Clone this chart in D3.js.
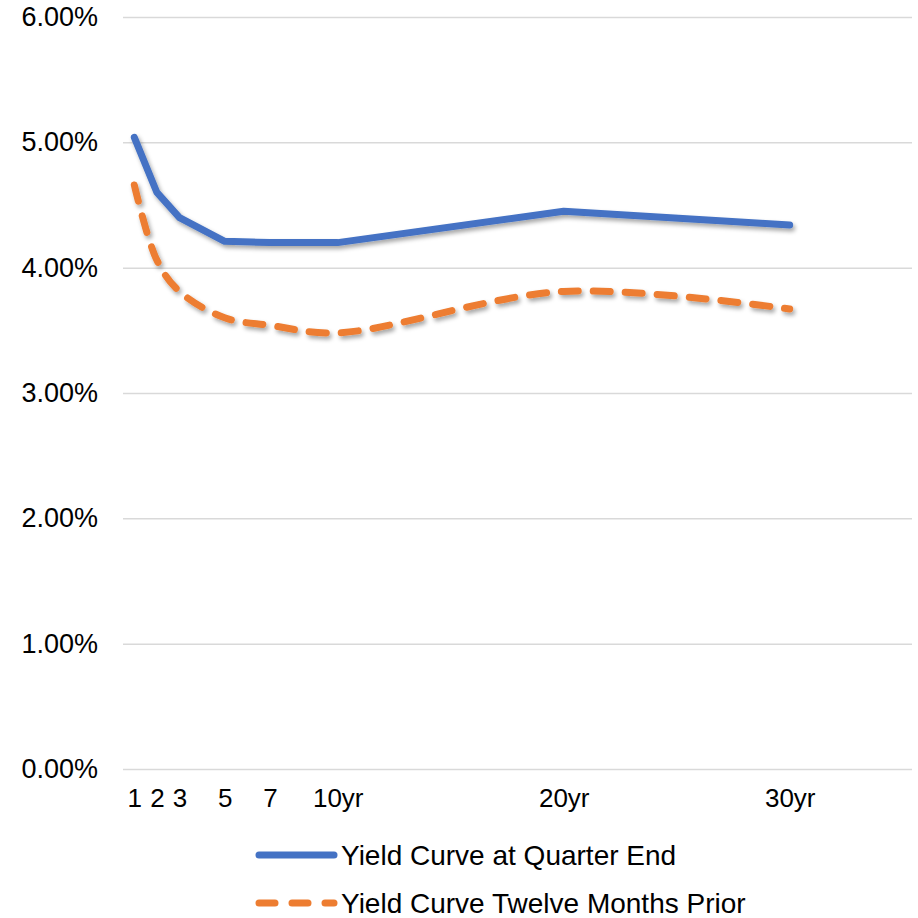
<!DOCTYPE html>
<html><head><meta charset="utf-8">
<script src="https://cdn.jsdelivr.net/npm/d3@7"></script>
<style>html,body{margin:0;padding:0;background:#fff;}svg{display:block;font-family:"Liberation Sans",Arial,sans-serif;}</style>
</head><body>
<svg id="c" width="918" height="918"></svg>
<script>
const maturities = [1, 2, 3, 5, 7, 10, 20, 30];
const maturityLabels = ["1", "2", "3", "5", "7", "10yr", "20yr", "30yr"];
const quarterEnd = [5.04, 4.60, 4.40, 4.21, 4.20, 4.20, 4.45, 4.34];
const twelveMonthsPrior = [4.66, 4.06, 3.81, 3.60, 3.54, 3.48, 3.81, 3.67];
const yTicks = [0, 1, 2, 3, 4, 5, 6];
const seriesNames = ["Yield Curve at Quarter End", "Yield Curve Twelve Months Prior"];

const svg = d3.select("#c");
const x = d3.scaleLinear().domain([0.5, 35.5]).range([123, 914]);
const y = d3.scaleLinear().domain([0, 6]).range([769, 17]);

const defs = svg.append("defs");
const f = defs.append("filter").attr("id", "sh").attr("x", "-10%").attr("y", "-10%").attr("width", "130%").attr("height", "140%");
f.append("feDropShadow").attr("dx", 2).attr("dy", 3).attr("stdDeviation", 2).attr("flood-color", "#000").attr("flood-opacity", 0.35);

// gridlines
const yAxis = d3.axisLeft(y).tickValues(yTicks).tickFormat(d => d.toFixed(2) + "%").tickSize(-(912 - 123)).tickPadding(25);
const gy = svg.append("g").attr("transform", "translate(123,0)").call(yAxis);
gy.select(".domain").remove();
gy.selectAll(".tick line").attr("stroke", "#d9d9d9").attr("stroke-width", 1.5);
gy.selectAll(".tick text").attr("fill", "#000").attr("font-size", 27).attr("font-family", "Liberation Sans, Arial, sans-serif");

// x axis labels
const xAxis = d3.axisBottom(x).tickValues(maturities).tickFormat((d, i) => maturityLabels[i]).tickSize(0).tickPadding(20);
const gx = svg.append("g").attr("transform", "translate(0,769)").call(xAxis);
gx.select(".domain").remove();
gx.selectAll(".tick text").attr("fill", "#000").attr("font-size", 26).attr("font-family", "Liberation Sans, Arial, sans-serif");

const pts1 = maturities.map((m, i) => [m, quarterEnd[i]]);
const pts2 = maturities.map((m, i) => [m, twelveMonthsPrior[i]]);

const lineStraight = d3.line().x(d => x(d[0])).y(d => y(d[1]));
const lineSmooth = d3.line().x(d => x(d[0])).y(d => y(d[1])).curve(d3.curveCatmullRom.alpha(0.5));

svg.append("path").attr("d", lineSmooth(pts2)).attr("fill", "none")
  .attr("stroke", "#ED7D31").attr("stroke-width", 7).attr("stroke-linecap", "round")
  .attr("stroke-dasharray", "17 15").attr("filter", "url(#sh)");
svg.append("path").attr("d", lineStraight(pts1)).attr("fill", "none")
  .attr("stroke", "#4472C4").attr("stroke-width", 7).attr("stroke-linecap", "round")
  .attr("stroke-linejoin", "round").attr("filter", "url(#sh)");

// legend
const leg = svg.append("g");
const legY = [855, 903];
leg.append("line").attr("x1", 259).attr("x2", 334).attr("y1", legY[0]).attr("y2", legY[0])
  .attr("stroke", "#4472C4").attr("stroke-width", 7).attr("stroke-linecap", "round");
leg.append("line").attr("x1", 259).attr("x2", 334).attr("y1", legY[1]).attr("y2", legY[1])
  .attr("stroke", "#ED7D31").attr("stroke-width", 7).attr("stroke-linecap", "round")
  .attr("stroke-dasharray", "16 17");
seriesNames.forEach((n, i) => {
  leg.append("text").attr("x", 341).attr("y", legY[i]).attr("dy", "0.35em")
    .attr("font-size", 28).attr("fill", "#000").text(n);
});
</script>
</body></html>
